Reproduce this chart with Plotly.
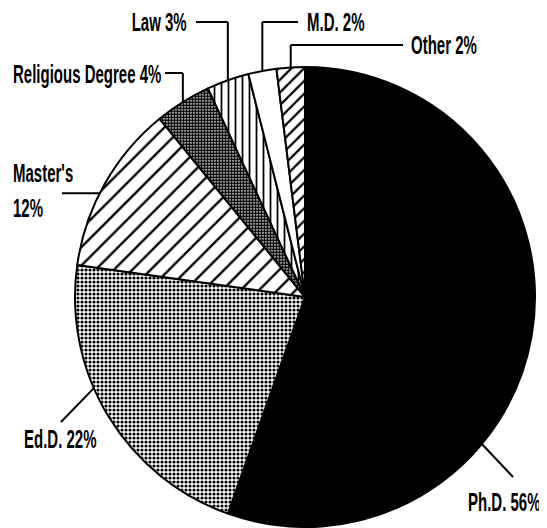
import math
import plotly.graph_objects as go

# ---- data ----
labels = ["Ph.D.", "Ed.D.", "Master's", "Religious Degree", "Law", "M.D.", "Other"]
values = [56, 22, 12, 4, 3, 2, 2]
label_texts = ["Ph.D. 56%", "Ed.D. 22%", "Master's|12%", "Religious Degree 4%", "Law 3%", "M.D. 2%", "Other 2%"]

# ---- styling ----
W, H = 547, 528
OFF = 8  # page body margin offset of the plot div
CX, CY, R = 305, 297, 230
FONT = "Liberation Sans, Arial, sans-serif"
FS = 25
SQUEEZE = 0.6  # horizontal condensing of label text

slice_bg = ["black", "white", "white", "white", "white", "white", "white"]
pat_shape = ["", ".", "/", ".", "|", "", "/"]
pat_size = [8, 4, 13, 3, 7, 8, 9]
pat_solid = [0.3, 0.5, 0.18, 0.75, 0.25, 0.3, 0.25]

# where the leader touches each slice (fraction through the slice) and its style
anchor_frac = [0.65, 0.6, 0.44, 0.5, 0.5, 0.5, 0.5]
leader = [
    ("radial", (513, 477), (466, [502], "left")),
    ("radial", (61, 422), (22, [439], "left")),
    ("horiz", (62, None), (11, [173, 208], "left")),
    ("elbow", (165, 73), (11, [74], "left")),
    ("elbow", (196, 22), (189, [22], "right")),
    ("elbow", (298, 22), (305, [22], "left")),
    ("elbow", (403, 45), (409, [45], "left")),
]

FW, FH = W - OFF, H - OFF


def px(x):
    return (x - OFF) / FW


def py(y):
    return 1 - (y - OFF) / FH


fig = go.Figure(go.Pie(
    labels=labels,
    values=values,
    sort=False,
    direction="clockwise",
    rotation=0,
    textinfo="none",
    hoverinfo="label+percent",
    showlegend=False,
    domain=dict(x=[px(CX - R), px(CX + R)], y=[py(CY + R), py(CY - R)]),
    marker=dict(
        colors=slice_bg,
        line=dict(color="black", width=2),
        pattern=dict(shape=pat_shape, size=pat_size, solidity=pat_solid,
                     fgcolor=["black"] * len(values), bgcolor=slice_bg, fillmode="replace"),
    ),
))

shapes = []
annotations = []
total = sum(values)
start = 0.0
LW = 2
for i, v in enumerate(values):
    a0 = start
    a1 = start + v / total * 360.0
    start = a1
    ang = math.radians(a0 + anchor_frac[i] * (a1 - a0))
    ex = CX + R * math.sin(ang)
    ey = CY - R * math.cos(ang)
    kind, tgt, lab = leader[i]
    if kind == "radial":
        shapes.append(dict(type="line", xref="paper", yref="paper",
                           x0=px(ex), y0=py(ey), x1=px(tgt[0]), y1=py(tgt[1]),
                           line=dict(color="black", width=LW)))
    elif kind == "horiz":
        shapes.append(dict(type="line", xref="paper", yref="paper",
                           x0=px(ex), y0=py(ey), x1=px(tgt[0]), y1=py(ey),
                           line=dict(color="black", width=LW)))
    else:
        shapes.append(dict(type="line", xref="paper", yref="paper",
                           x0=px(ex), y0=py(ey), x1=px(ex), y1=py(tgt[1]),
                           line=dict(color="black", width=LW)))
        shapes.append(dict(type="line", xref="paper", yref="paper",
                           x0=px(ex), y0=py(tgt[1]), x1=px(tgt[0]), y1=py(tgt[1]),
                           line=dict(color="black", width=LW)))
    lx, lys, side = lab
    parts = label_texts[i].split("|")
    for t, yy in zip(parts, lys):
        annotations.append(dict(text=t, xref="paper", yref="paper",
                                x=px(lx), y=py(yy), xanchor=side, yanchor="middle",
                                showarrow=False,
                                font=dict(family=FONT, size=FS, color="black", weight="bold")))

fig.update_layout(
    width=FW, height=FH,
    margin=dict(l=0, r=0, t=0, b=0),
    paper_bgcolor="white",
    plot_bgcolor="white",
    shapes=shapes,
    annotations=annotations,
)

# condense the label text horizontally around its anchor edge (text stays real text)
post = """
var gd = document.getElementById('{plot_id}');
var anns = gd.layout.annotations || [];
gd.querySelectorAll('g.annotation').forEach(function(g){
  var idx = parseInt(g.getAttribute('data-index'));
  var a = anns[idx];
  var t = g.querySelector('text.annotation-text');
  if (!a || !t) return;
  var bb = t.getBBox();
  var ax = a.xanchor === 'right' ? bb.x + bb.width : bb.x;
  var old = t.getAttribute('transform') || '';
  t.setAttribute('transform', old + ' translate(' + ax + ',0) scale(%s,1) translate(' + (-ax) + ',0)');
});
""" % SQUEEZE

fig.write_html("out.html", post_script=post)
